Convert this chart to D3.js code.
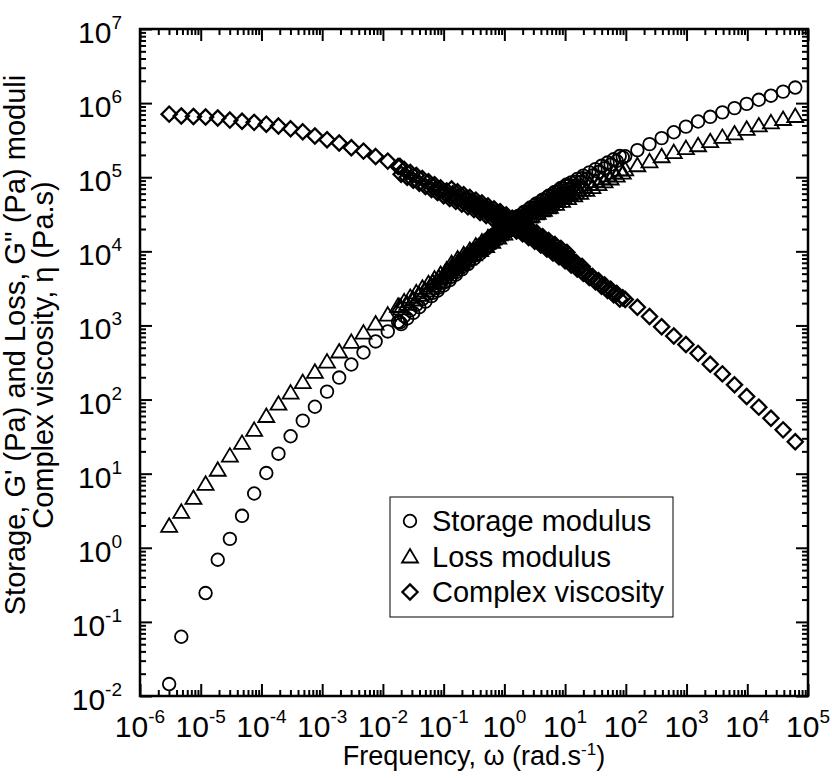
<!DOCTYPE html>
<html><head><meta charset="utf-8">
<script src="https://cdn.jsdelivr.net/npm/d3@7"></script>
<style>body{margin:0;background:#fff}svg{display:block}text{font-family:"Liberation Sans",Arial,sans-serif;fill:#000}</style>
</head><body>
<script>
// ---------- data ----------
const xTickExp = ["-6","-5","-4","-3","-2","-1","0","1","2","3","4","5"];
const yTickExp = ["-2","-1","0","1","2","3","4","5","6","7"];
const legendLabels = ["Storage modulus","Loss modulus","Complex viscosity"];

// low-frequency sparse data
const freqLow = [3.02e-6,4.786e-6,7.586e-6,1.202e-5,1.905e-5,3.02e-5,4.786e-5,7.586e-5,1.202e-4,1.905e-4,3.02e-4,4.786e-4,7.586e-4,1.202e-3,1.905e-3,3.02e-3,4.786e-3,7.586e-3,1.202e-2,1.905e-2];
const storageLow = [0.0145,0.063,null,0.245,0.69,1.32,2.7,5.4,10.2,18.6,32,52,80,128,198,297,431,608,830,1100];
const lossLow = [1.98,3.06,4.7,7.3,11.3,17.5,26,39,60,88,124,172,237,325,445,600,800,1060,1400,1820];
const viscLow = [7.1e5,6.7e5,6.6e5,6.5e5,6.3e5,5.9e5,5.7e5,5.5e5,5.2e5,4.9e5,4.5e5,4.1e5,3.6e5,3.2e5,2.9e5,2.5e5,2.25e5,1.9e5,1.65e5,1.4e5];

// overlapping frequency sweeps (dense middle band)
const freqSweep1 = [0.01778,0.02239,0.02818,0.03548,0.04467,0.05623,0.07079,0.08913,0.1122,0.1413,0.1778,0.2239,0.2818,0.3548,0.4467,0.5623,0.7079,0.8913,1.122,1.413];
const storageSweep1 = [1122,1337,1592,1897,2259,2692,3177,3750,4426,5224,6166,7278,8590,10090,11800,13800,16000,18540,21380,24550];
const lossSweep1 = [1841,2113,2427,2793,3221,3715,4285,4943,5702,6577,7586,8670,9908,11300,12850,14620,16630,18920,21330,23820];
const viscSweep1 = [139600,127400,116100,105700,95940,87100,79070,71780,65460,59980,54950,50470,46340,42460,38820,35560,32360,29580,26790,24100];

const freqSweep2 = [0.0661,0.0832,0.1047,0.1318,0.166,0.2089,0.263,0.3311,0.4169,0.5248,0.6607,0.8318,1.047,1.318,1.66,2.089,2.63,3.311,4.169,5.248];
const storageSweep2 = [2754,3251,3837,4529,5346,6310,7447,8790,10280,12020,13960,16180,18710,21480,24660,28120,31990,36310,40930,46130];
const lossSweep2 = [3828,4416,5093,5875,6776,7780,8892,10140,11530,13120,14930,16980,19280,21530,24040,26670,29510,32580,35730,39170];
const viscSweep2 = [75160,68230,61940,56750,52000,47750,43850,40270,36810,33570,30690,28050,25530,22960,20650,18450,16480,14660,12970,11480];

const freqSweep3 = [0.2399,0.302,0.3802,0.4786,0.6026,0.7586,0.955,1.202,1.514,1.905,2.399,3.02,3.802,4.786,6.026,7.586,9.55,12.02,15.14,19.05];
const storageSweep3 = [7745,9141,10690,12500,14590,16900,19590,22540,25880,29650,33730,38370,43350,48870,55080,62090,69980,78160,87300,97270];
const lossSweep3 = [8913,10190,11610,13210,15030,17100,19450,21780,24320,27100,29990,33190,36480,39990,43850,48080,52720,57410,62370,67920];
const viscSweep3 = [49770,45710,41780,38190,34910,31840,29110,26240,23600,21180,18920,16870,14960,13240,11720,10380,9183,8072,7096,6237];

const freqSweep4 = [0.8913,1.122,1.413,1.778,2.239,2.818,3.548,4.467,5.623,7.079,8.913,11.22,14.13,17.78,22.39,28.18,35.48,44.67,56.23,70.79,89.13];
const storageSweep4 = [17100,19720,22650,26000,29580,33650,38110,42950,48420,54580,61520,69020,77090,86100,95280,105400,118000,132100,147900,165600,185400];
const lossSweep4 = [17460,19680,21980,24550,27160,30060,33110,36310,39810,43650,47860,52240,56750,61660,67450,73620,80540,88100,96160,105200,115100];
const viscSweep4 = [27610,25000,22490,20230,18030,16110,14290,12650,11190,9908,8770,7745,6808,5984,5236,4592,4018,3516,3076,2698,2360];

const freqSweep5 = [0.01995,0.02512,0.03162,0.03981,0.05012,0.0631,0.07943,0.1,0.1259,0.1585,0.1995,0.2512,0.3162,0.3981,0.5012,0.631,0.7943,1.0,1.259,1.585];
const storageSweep5 = [1042,1242,1479,1762,2099,2489,2938,3467,4093,4831,5702,6730,7943,9290,10860,12650,14660,16980,19500,22390];
const lossSweep5 = [1698,1950,2239,2582,2979,3436,3963,4571,5272,6081,6982,7980,9120,10380,11800,13430,15280,17380,19410,21680];
const viscSweep5 = [109600,100000,91200,82790,75160,68230,61940,56230,51520,47210,43350,39810,36560,33420,30480,27860,25410,23230,20890,18790];

const freqSweep6 = [0.1349,0.1698,0.2138,0.2692,0.3388,0.4266,0.537,0.6761,0.8511,1.072,1.349,1.698,2.138,2.692,3.388,4.266,5.37,6.761,8.511,10.72];
const storageSweep6 = [5546,6546,7727,9120,10720,12530,14660,17020,19720,22800,26180,30060,34280,38990,44260,49890,56230,63390,71450,80170];
const lossSweep6 = [6934,7998,9141,10450,11940,13580,15450,17580,20000,22590,25230,28180,31260,34590,38190,41880,45920,50350,55210,60390];
const viscSweep6 = [69340,63530,58210,53460,49090,44870,40930,37410,34200,31050,27930,25120,22440,20040,17820,15780,13960,12360,10940,9661];

const freqSweep7 = [1.0,1.259,1.585,1.995,2.512,3.162,3.981,5.012,6.31,7.943,10,12.59,15.85,19.95,25.12,31.62,39.81,50.12,63.1,79.43];
const storageSweep7 = [21380,24550,28180,32210,36640,41690,46990,52970,59700,67300,75860,84720,94620,105200,116400,128800,142600,157800,174600,193200];
const lossSweep7 = [21380,23880,26670,29650,32810,36310,39810,43650,47860,52480,57540,62520,67920,73960,80910,88510,96610,105700,115600,126500];
const viscSweep7 = [23770,21380,19230,17220,15380,13710,12130,10740,9506,8414,7447,6546,5754,5047,4416,3873,3388,2965,2600,2275];

// high-frequency sparse data
const freqHigh = [97.7,154.9,245.5,389,616.6,977.2,1549,2455,3890,6166,9772,15490,24550,38900,61660];
const storageHigh = [191900,231700,279900,337300,404600,481900,564900,653100,749900,857000,977200,1109000,1259000,1429000,1622000];
const lossHigh = [128000,145000,164000,192000,218000,247000,270000,306000,350000,390000,450000,500000,550000,610000,670000];
const viscHigh = [2245,1760,1320,960,720,554,420,300,222,158,110,79,56,39,27];

// ---------- layout ----------
const W = 832, H = 780;
const L = 140, R = 808, T = 29, B = 696;
const svg = d3.select("body").append("svg").attr("width", W).attr("height", H);

const x = d3.scaleLog().domain([1e-6, 1e5]).range([L, R]);
const y = d3.scaleLog().domain([1e-2, 1e7]).range([B, T]);

function pts(fs, vs){ return fs.map((f,i)=>({f, v: vs[i]})).filter(d => d.v != null); }
const freqSets = [freqLow, freqSweep1, freqSweep2, freqSweep3, freqSweep4, freqSweep5, freqSweep6, freqSweep7, freqHigh];
const storage = [storageLow, storageSweep1, storageSweep2, storageSweep3, storageSweep4, storageSweep5, storageSweep6, storageSweep7, storageHigh].flatMap((a,i)=>pts(freqSets[i], a));
const loss = [lossLow, lossSweep1, lossSweep2, lossSweep3, lossSweep4, lossSweep5, lossSweep6, lossSweep7, lossHigh].flatMap((a,i)=>pts(freqSets[i], a));
const visc = [viscLow, viscSweep1, viscSweep2, viscSweep3, viscSweep4, viscSweep5, viscSweep6, viscSweep7, viscHigh].flatMap((a,i)=>pts(freqSets[i], a));

// ---------- ticks ----------
const xMajor = xTickExp.map(e => Math.pow(10, +e));
const yMajor = yTickExp.map(e => Math.pow(10, +e));
function minors(majors){ const out=[]; majors.slice(0,-1).forEach(m=>{ for(let k=2;k<=9;k++) out.push(m*k); }); return out; }
const xMinor = minors(xMajor), yMinor = minors(yMajor);

function styleAxis(g){ g.select(".domain").remove(); g.selectAll("line").attr("stroke","#000").attr("stroke-width",2); g.selectAll("text").remove(); }
svg.append("g").attr("transform",`translate(0,${B})`).call(d3.axisBottom(x).tickValues(xMajor).tickSize(-12)).call(styleAxis);
svg.append("g").attr("transform",`translate(0,${B})`).call(d3.axisBottom(x).tickValues(xMinor).tickSize(-6)).call(styleAxis);
svg.append("g").attr("transform",`translate(0,${T})`).call(d3.axisTop(x).tickValues(xMajor).tickSize(-12)).call(styleAxis);
svg.append("g").attr("transform",`translate(0,${T})`).call(d3.axisTop(x).tickValues(xMinor).tickSize(-6)).call(styleAxis);
svg.append("g").attr("transform",`translate(${L},0)`).call(d3.axisLeft(y).tickValues(yMajor).tickSize(-12)).call(styleAxis);
svg.append("g").attr("transform",`translate(${L},0)`).call(d3.axisLeft(y).tickValues(yMinor).tickSize(-6)).call(styleAxis);
svg.append("g").attr("transform",`translate(${R},0)`).call(d3.axisRight(y).tickValues(yMajor).tickSize(-12)).call(styleAxis);
svg.append("g").attr("transform",`translate(${R},0)`).call(d3.axisRight(y).tickValues(yMinor).tickSize(-6)).call(styleAxis);

svg.append("rect").attr("x",L).attr("y",T).attr("width",R-L).attr("height",B-T)
  .attr("fill","none").attr("stroke","#000").attr("stroke-width",2.5);

// tick labels
xTickExp.forEach((e,i)=>{
  const t = svg.append("text").attr("x", x(xMajor[i])).attr("y", B+41).attr("text-anchor","middle").attr("font-size",30);
  t.append("tspan").text("10");
  t.append("tspan").attr("dy",-14).attr("font-size",19).text(e);
});
yTickExp.forEach((e,i)=>{
  const t = svg.append("text").attr("x", L-18).attr("y", y(yMajor[i])+14).attr("text-anchor","end").attr("font-size",30);
  t.append("tspan").text("10");
  t.append("tspan").attr("dy",-14).attr("font-size",19).text(e);
});

// axis titles
const xt = svg.append("text").attr("x",(L+R)/2).attr("y",765).attr("text-anchor","middle").attr("font-size",27);
xt.append("tspan").text("Frequency, \u03C9 (rad.s");
xt.append("tspan").attr("dy",-10).attr("font-size",17).text("-1");
xt.append("tspan").attr("dy",10).text(")");

svg.append("text").attr("transform",`translate(25,345) rotate(-90)`).attr("text-anchor","middle").attr("font-size",29)
  .text("Storage, G' (Pa) and Loss, G'' (Pa) moduli");
svg.append("text").attr("transform",`translate(53,355) rotate(-90)`).attr("text-anchor","middle").attr("font-size",29)
  .text("Complex viscosity, \u03B7 (Pa.s)");

// ---------- markers ----------
const tri = "M0,-7.5L8,6L-8,6Z";
const dia = "M0,-7.6L7.6,0L0,7.6L-7.6,0Z";
const plot = svg.append("g");
plot.selectAll("circle.s").data(storage).join("circle").attr("class","s")
  .attr("cx",d=>x(d.f)).attr("cy",d=>y(d.v)).attr("r",6.3)
  .attr("fill","none").attr("stroke","#000").attr("stroke-width",1.8);
plot.selectAll("path.l").data(loss).join("path").attr("class","l")
  .attr("transform",d=>`translate(${x(d.f)},${y(d.v)})`).attr("d",tri)
  .attr("fill","none").attr("stroke","#000").attr("stroke-width",1.8);
plot.selectAll("path.v").data(visc).join("path").attr("class","v")
  .attr("transform",d=>`translate(${x(d.f)},${y(d.v)})`).attr("d",dia)
  .attr("fill","none").attr("stroke","#000").attr("stroke-width",2.3);

// ---------- legend ----------
const lg = svg.append("g");
lg.append("rect").attr("x",390).attr("y",497).attr("width",283).attr("height",120)
  .attr("fill","#fff").attr("stroke","#000").attr("stroke-width",1);
const shapes = ["circle", tri, dia];
legendLabels.forEach((lab,i)=>{
  const cy = 521 + i*35.5;
  if(i===0) lg.append("circle").attr("cx",410).attr("cy",cy).attr("r",6.3).attr("fill","none").attr("stroke","#000").attr("stroke-width",1.8);
  else lg.append("path").attr("transform",`translate(410,${cy})`).attr("d",shapes[i]).attr("fill","none").attr("stroke","#000").attr("stroke-width",i===2?2.3:1.8);
  lg.append("text").attr("x",432).attr("y",cy+10).attr("font-size",29).text(lab);
});
</script>
</body></html>
